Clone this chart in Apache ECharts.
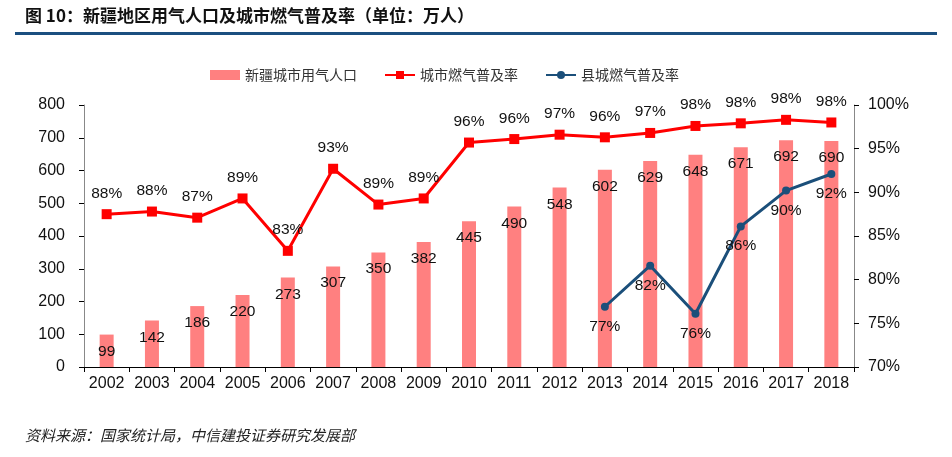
<!DOCTYPE html>
<html><head><meta charset="utf-8">
<script src="https://cdn.jsdelivr.net/npm/echarts@6/dist/echarts.min.js"></script>
<style>html,body{margin:0;padding:0;background:#fff}#c{width:952px;height:457px}</style>
</head><body><div id="c"></div>
<script>
const years = ['2002','2003','2004','2005','2006','2007','2008','2009','2010','2011','2012','2013','2014','2015','2016','2017','2018'];
const gasPopulation = [99,142,186,220,273,307,350,382,445,490,548,602,629,648,671,692,690];
const cityRate = [87.5,87.8,87.1,89.3,83.3,92.7,88.6,89.3,95.7,96.1,96.6,96.3,96.8,97.6,97.9,98.3,98.0];
const countyRate = [null,null,null,null,null,null,null,null,null,null,null,76.9,81.6,76.1,86.1,90.2,92.1];
const leftTicks = {min:0,max:800,interval:100};
const rightTicks = {min:70,max:100,interval:5};

const FONT = '"Liberation Sans", "Noto Sans CJK SC", sans-serif';
const CJK = '"Noto Sans CJK SC", sans-serif';
const chart = echarts.init(document.getElementById('c'));
chart.setOption({
  animation:false,
  textStyle:{fontFamily:FONT},
  graphic:[
    {type:'text',left:25,top:7,style:{text:'图 10：新疆地区用气人口及城市燃气普及率（单位：万人）',font:'bold 17px '+CJK,fill:'#111'}},
    {type:'rect',shape:{x:15,y:32,width:922,height:3},style:{fill:'#1B4F80'}},
    {type:'text',left:25,top:428,style:{text:'资料来源：国家统计局，中信建投证券研究发展部',font:'italic 15px '+CJK,fill:'#222'}}
  ],
  legend:{
    left:205,top:63,itemWidth:30,itemHeight:10,itemGap:27,
    textStyle:{fontSize:14,color:'#333',fontFamily:CJK},
    data:[{name:'新疆城市用气人口',icon:'rect'},'城市燃气普及率','县城燃气普及率']
  },
  grid:{left:84,right:98,top:105,bottom:90},
  xAxis:{
    type:'category',data:years,boundaryGap:true,
    axisLine:{lineStyle:{color:'#000',width:1}},
    axisTick:{show:true,alignWithLabel:false,length:5,lineStyle:{color:'#000'}},
    axisLabel:{fontSize:16,color:'#111',margin:9,interval:0}
  },
  yAxis:[
    {type:'value',min:leftTicks.min,max:leftTicks.max,interval:leftTicks.interval,
     axisLine:{show:true,lineStyle:{color:'#888'}},
     axisTick:{show:true,length:5,lineStyle:{color:'#000'}},
     splitLine:{show:false},
     axisLabel:{fontSize:16,color:'#111',margin:19}},
    {type:'value',min:rightTicks.min,max:rightTicks.max,interval:rightTicks.interval,
     axisLine:{show:true,lineStyle:{color:'#888'}},
     axisTick:{show:true,length:5,lineStyle:{color:'#000'}},
     splitLine:{show:false},
     axisLabel:{fontSize:16,color:'#111',margin:14,formatter:'{value}%'}}
  ],
  series:[
    {name:'新疆城市用气人口',type:'bar',data:gasPopulation,barWidth:14,yAxisIndex:0,
     itemStyle:{color:'#FF8080'},
     label:{show:true,position:'insideTop',distance:9,fontSize:15.5,color:'#111'}},
    {name:'城市燃气普及率',type:'line',data:cityRate,yAxisIndex:1,
     lineStyle:{color:'#FF0000',width:3},itemStyle:{color:'#FF0000'},
     symbol:'rect',symbolSize:10,
     label:{show:true,position:'top',distance:8,fontSize:15.5,color:'#111',formatter:p=>Math.round(p.value)+'%'}},
    {name:'县城燃气普及率',type:'line',data:countyRate,yAxisIndex:1,
     lineStyle:{color:'#1B4F7A',width:3},itemStyle:{color:'#1B4F7A'},
     symbol:'circle',symbolSize:8,
     label:{show:true,position:'bottom',distance:8,fontSize:15.5,color:'#111',formatter:p=>Math.round(p.value)+'%'}}
  ]
});
</script></body></html>
